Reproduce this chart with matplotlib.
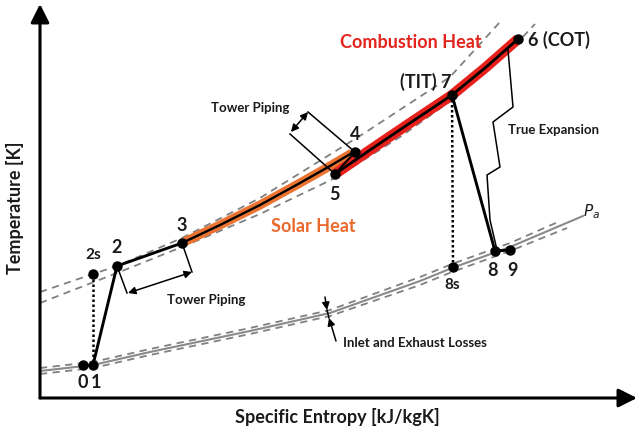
import matplotlib
matplotlib.use("Agg")
import matplotlib.pyplot as plt

# ---- data (schematic units: s = specific entropy, T = temperature) ----
state_labels = ["0", "1", "2s", "2", "3", "4", "5", "6", "7", "8s", "8", "9"]
state_s = [43, 53, 53, 77, 142, 315, 295, 478, 412, 413, 455, 470]
state_T = [33, 33, 124, 132, 155, 246, 224, 359, 303, 131, 147, 148]
S = dict(zip(state_labels, zip(state_s, state_T)))

# high-pressure isobars (dashed)
iso_hi_s = [0, 53, 77, 142, 220, 323, 410, 460]
iso_hi_T = [106, 124, 132, 160, 200, 264, 321, 376]
iso_mid_s = [0, 77, 142, 220, 295, 360, 412, 478, 495]
iso_mid_T = [95, 125, 151, 184, 220, 261, 298, 356, 374]
# ambient isobar Pa (solid) and loss band (dashed)
iso_pa_s = [0, 53, 110, 210, 290, 380, 412, 470, 543]
iso_pa_T = [27, 33, 46, 67, 85, 117, 130, 151, 182]
iso_pa_up_s = [0, 53, 110, 210, 290, 380, 412, 470, 518]
iso_pa_up_T = [30, 36, 49, 70, 88, 121, 134, 155, 176]
iso_pa_lo_s = [0, 53, 110, 210, 290, 380, 412, 470, 527]
iso_pa_lo_T = [24, 30, 43, 64, 82, 113, 126, 147, 170]
# heat addition paths
solar_s = [142, 180, 220, 260, 290, 312]
solar_T = [155, 173, 193, 215, 232, 245]
comb_s = [295, 330, 370, 412, 445, 478]
comb_T = [224, 248, 275, 303, 330, 359]
# true expansion staircase
true_exp_s = [468, 473, 453, 460, 447, 450, 457]
true_exp_T = [348, 291, 276, 231, 223, 178, 148]

fig = plt.figure(figsize=(6.4, 4.36), dpi=100)
ax = fig.add_axes([40/640, 38/436, 600/640, 398/436])
ax.set_xlim(0, 600)
ax.set_ylim(0, 398)
for sp in ax.spines.values():
    sp.set_visible(False)
ax.set_xticks([])
ax.set_yticks([])
ax.patch.set_alpha(0)

FONT = "Lato"
TXT = "#1a1a1a"

# axes arrows
ax.annotate("", xy=(0.995, 0), xytext=(0, 0), xycoords="axes fraction",
            arrowprops=dict(arrowstyle="-|>", lw=2.2, color="black", mutation_scale=28,
                            shrinkA=0, shrinkB=0), annotation_clip=False)
ax.annotate("", xy=(0, 0.99), xytext=(0, 0), xycoords="axes fraction",
            arrowprops=dict(arrowstyle="-|>", lw=2.2, color="black", mutation_scale=28,
                            shrinkA=0, shrinkB=0), annotation_clip=False)

ax.set_xlabel("Specific Entropy [kJ/kgK]", fontsize=13, fontweight="bold", family=FONT, color=TXT)
ax.xaxis.set_label_coords(0.495, -0.025)
ax.set_ylabel("Temperature [K]", fontsize=13, fontweight="bold", family=FONT, color=TXT)
ax.yaxis.set_label_coords(-0.027, 0.477)

dash_kw = dict(color="#808080", lw=1.3, dashes=(4, 3))
ax.plot(iso_hi_s, iso_hi_T, **dash_kw)
ax.plot(iso_mid_s, iso_mid_T, **dash_kw)
ax.plot(iso_pa_up_s, iso_pa_up_T, **dash_kw)
ax.plot(iso_pa_lo_s, iso_pa_lo_T, **dash_kw)
ax.plot(iso_pa_s, iso_pa_T, color="#8a8a8a", lw=1.5)

# heat addition
ax.plot(solar_s, solar_T, color="#ec7432", lw=6.5, solid_capstyle="butt")
ax.plot(solar_s, solar_T, color="black", lw=1.7)
ax.plot(comb_s, comb_T, color="#e8201c", lw=7.5, solid_capstyle="butt")
ax.plot(comb_s, comb_T, color="black", lw=2.0)

# process lines
def seg(a, b, **kw):
    ax.plot([S[a][0], S[b][0]], [S[a][1], S[b][1]], **kw)

thick = dict(color="black", lw=2.1)
seg("0", "1", **thick)
seg("1", "2", **thick)
seg("2", "3", **thick)
seg("4", "5", color="black", lw=1.5)
seg("7", "8", **thick)
seg("8", "9", **thick)
dot = dict(color="black", lw=1.8, linestyle=(0, (1, 1)))
seg("2s", "1", **dot)
seg("7", "8s", **dot)

ax.plot(true_exp_s, true_exp_T, color="black", lw=1.1)

ax.plot(state_s, state_T, "o", color="black", ms=6.5, zorder=5)

# tower piping brackets
brk = dict(color="black", lw=1.1)
ax.plot([S["4"][0], 268], [S["4"][1], 286], **brk)
ax.plot([S["5"][0], 250], [S["5"][1], 264], **brk)
ax.annotate("", xy=(268, 286), xytext=(251, 266),
            arrowprops=dict(arrowstyle="<|-|>", lw=1.1, color="black", mutation_scale=11,
                            shrinkA=0, shrinkB=0))
ax.plot([S["2"][0], 87], [S["2"][1], 105], **brk)
ax.plot([S["3"][0], 152], [S["3"][1], 126], **brk)
ax.annotate("", xy=(152, 126), xytext=(88, 105),
            arrowprops=dict(arrowstyle="<|-|>", lw=1.1, color="black", mutation_scale=11,
                            shrinkA=0, shrinkB=0))

# inlet / exhaust loss marker
ax.annotate("", xy=(287, 88), xytext=(285, 101),
            arrowprops=dict(arrowstyle="-|>", lw=1.1, color="black", mutation_scale=11,
                            shrinkA=0, shrinkB=0))
ax.annotate("", xy=(289, 80), xytext=(296, 57),
            arrowprops=dict(arrowstyle="-|>", lw=1.1, color="black", mutation_scale=11,
                            shrinkA=0, shrinkB=0))
ax.plot([287, 289], [88, 80], color="black", lw=1.1)

# state labels
lab = dict(fontsize=13, fontweight="bold", family=FONT, color=TXT, ha="center", va="center")
ax.text(43, 16, "0", **lab)
ax.text(56, 16, "1", **lab)
ax.text(53, 143, "2s", fontsize=11, fontweight="bold", family=FONT, color=TXT, ha="center", va="center")
ax.text(77, 151, "2", **lab)
ax.text(142, 173, "3", **lab)
ax.text(315, 263, "4", **lab)
ax.text(294, 204, "5", **lab)
ax.text(412, 316, "(TIT) 7", fontsize=13, fontweight="bold", family=FONT, color=TXT, ha="right", va="center")
ax.text(488, 358, "6 (COT)", fontsize=13, fontweight="bold", family=FONT, color=TXT, ha="left", va="center")
ax.text(412, 113, "8s", fontsize=11, fontweight="bold", family=FONT, color=TXT, ha="center", va="center")
ax.text(453, 128, "8", **lab)
ax.text(472, 128, "9", **lab)

small = dict(fontsize=9.5, fontweight="bold", family=FONT, color=TXT, va="center")
ax.text(210, 290, "Tower Piping", ha="center", **small)
ax.text(166, 98, "Tower Piping", ha="center", **small)
ax.text(303, 55, "Inlet and Exhaust Losses", ha="left", **small)
ax.text(468, 268, "True Expansion", ha="left", **small)

ax.text(371, 355, "Combustion Heat", fontsize=13, fontweight="bold", family=FONT,
        color="#e3241c", ha="center", va="center")
ax.text(273, 172, "Solar Heat", fontsize=13, fontweight="bold", family=FONT,
        color="#e8692b", ha="center", va="center")
ax.text(552, 186, "$P_a$", fontsize=11, color=TXT, ha="center", va="center")

fig.savefig("out.png", dpi=100)
